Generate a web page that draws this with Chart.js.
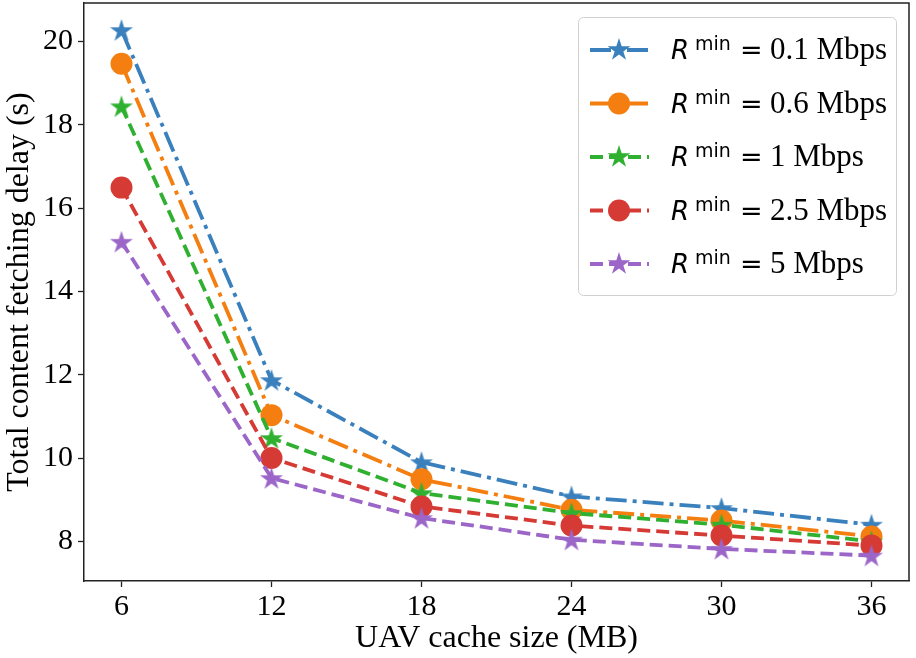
<!DOCTYPE html>
<html>
<head>
<meta charset="utf-8">
<script src="https://cdn.jsdelivr.net/npm/chart.js@4.4.1/dist/chart.umd.min.js"></script>
<style>
  body { margin: 0; background: #fff; }
  #wrap { width: 916px; height: 658px; }
</style>
</head>
<body>
<div id="wrap"><canvas id="mycanvas" width="916" height="658"></canvas></div>
<script>
// data
var cacheSizes = [6, 12, 18, 24, 30, 36];
var delay01 = [20.27, 11.87, 9.9, 9.08, 8.8, 8.4];
var delay06 = [19.46, 11.03, 9.49, 8.76, 8.5, 8.12];
var delay1 = [18.44, 10.48, 9.16, 8.68, 8.4, 8.0];
var delay25 = [16.49, 10.0, 8.84, 8.38, 8.14, 7.9];
var delay5 = [15.19, 9.52, 8.56, 8.04, 7.82, 7.66];
var rateLabels = ["0.1", "0.6", "1", "2.5", "5"];
var yTicks = [8, 10, 12, 14, 16, 18, 20];

var SERIF = "'Liberation Serif', 'Times New Roman', serif";
var SANS = "'DejaVu Sans', sans-serif";

var colors = ["#3a80bd", "#f47f10", "#30b030", "#d63a34", "#9b66c8"];
var markers = ["star", "circle", "star", "circle", "star"];
var dashDot = [21, 6, 4, 6];
var dashed = [13, 6];
var dashes = [dashDot, dashDot, dashed, dashed, dashed];
var allSeries = [delay01, delay06, delay1, delay25, delay5];

// filled five point star, like matplotlib '*'
function makeStar(color)
{
    var R = 12, r = R * 0.382, size = 30;
    var c = document.createElement("canvas");
    c.width = size; c.height = size;
    var g = c.getContext("2d");
    g.fillStyle = color;
    g.beginPath();
    for (var i = 0; i < 10; i++) {
        var rad = (i % 2 == 0) ? R : r;
        var a = -Math.PI / 2 + i * Math.PI / 5;
        var px = size / 2 + rad * Math.cos(a);
        var py = size / 2 + 1 + rad * Math.sin(a);
        if (i == 0) g.moveTo(px, py); else g.lineTo(px, py);
    }
    g.closePath();
    g.fill();
    return c;
}

var datasets = [];
for (var i = 0; i < allSeries.length; i++) {
    var pts = [];
    for (var j = 0; j < cacheSizes.length; j++) {
        pts.push({ x: cacheSizes[j], y: allSeries[i][j] });
    }
    var star = markers[i] == "star" ? makeStar(colors[i]) : null;
    datasets.push({
        label: "R min = " + rateLabels[i] + " Mbps",
        data: pts,
        borderColor: colors[i],
        backgroundColor: colors[i],
        borderWidth: 3.8,
        borderDash: dashes[i],
        borderCapStyle: "butt",
        pointStyle: star ? star : "circle",
        pointRadius: star ? 12 : 11,
        pointBorderWidth: 0,
        pointBackgroundColor: colors[i],
        tension: 0,
        order: allSeries.length - 1 - i,
        starImg: star
    });
}

// top/right spines + matplotlib style legend
var extrasPlugin = {
    id: "extras",
    afterDraw: function (chart)
    {
        var ctx = chart.ctx, a = chart.chartArea;
        ctx.save();
        ctx.strokeStyle = "#222";
        ctx.lineWidth = 1.5;
        ctx.beginPath();
        ctx.moveTo(a.left, a.top);
        ctx.lineTo(a.right, a.top);
        ctx.lineTo(a.right, a.bottom);
        ctx.stroke();

        // legend frame
        var bx = 578.5, by = 17.5, bw = 318, bh = 278;
        ctx.beginPath();
        ctx.roundRect(bx, by, bw, bh, 5);
        ctx.fillStyle = "rgba(255,255,255,0.85)";
        ctx.fill();
        ctx.strokeStyle = "#d0d0d0";
        ctx.lineWidth = 1;
        ctx.stroke();

        for (var k = 0; k < datasets.length; k++) {
            var ds = chart.data.datasets[k];
            var base = 59 + k * 53.5;
            var ly = base - 9;
            ctx.strokeStyle = ds.borderColor;
            ctx.lineWidth = ds.borderWidth;
            ctx.lineCap = "butt";
            ctx.setLineDash(ds.borderDash);
            ctx.beginPath();
            ctx.moveTo(590, ly);
            ctx.lineTo(649, ly);
            ctx.stroke();
            ctx.setLineDash([]);
            if (ds.starImg) {
                ctx.drawImage(ds.starImg, 619 - 15, ly - 16);
            } else {
                ctx.fillStyle = ds.borderColor;
                ctx.beginPath();
                ctx.arc(619, ly, 11, 0, Math.PI * 2);
                ctx.fill();
            }
            ctx.fillStyle = "#000";
            ctx.textBaseline = "alphabetic";
            ctx.textAlign = "left";
            ctx.font = "oblique 26px " + SANS;
            ctx.fillText("R", 671, base);
            ctx.font = "19px " + SANS;
            ctx.fillText("min", 695, base - 9);
            ctx.font = "27px " + SANS;
            ctx.fillText("=", 740, base);
            ctx.font = "31px " + SERIF;
            ctx.fillText(rateLabels[k] + " Mbps", 770, base);
        }
        ctx.restore();
    }
};

var tickFont = { family: SERIF, size: 30 };
var titleFont = { family: SERIF, size: 32 };

function noPad(s)
{
    s.paddingTop = 0; s.paddingBottom = 0; s.paddingLeft = 0; s.paddingRight = 0;
}

window.myGraph = new Chart(document.getElementById("mycanvas"), {
    type: "line",
    data: { datasets: datasets },
    plugins: [extrasPlugin],
    options: {
        responsive: false,
        animation: false,
        layout: { autoPadding: false, padding: { left: 0, right: 7, top: 3, bottom: 0 } },
        plugins: { legend: { display: false }, tooltip: { enabled: false } },
        scales: {
            x: {
                type: "linear",
                min: 4.5,
                max: 37.5,
                afterBuildTicks: function (s) { s.ticks = cacheSizes.map(function (v) { return { value: v }; }); },
                afterFit: function (s) { s.height = 77; noPad(s); },
                ticks: { font: tickFont, color: "#000", padding: 2, maxRotation: 0 },
                grid: { drawOnChartArea: false, tickLength: 6, color: "#222", tickWidth: 1.3 },
                border: { color: "#222", width: 1.5 },
                title: { display: true, text: "UAV cache size (MB)", font: titleFont, color: "#000", padding: { top: 0, bottom: 0 } }
            },
            y: {
                min: 7.05,
                max: 20.92,
                afterBuildTicks: function (s) { s.ticks = yTicks.map(function (v) { return { value: v }; }); },
                afterFit: function (s) { s.width = 84; noPad(s); },
                ticks: { font: tickFont, color: "#000", padding: 5 },
                grid: { drawOnChartArea: false, tickLength: 6, color: "#222", tickWidth: 1.3 },
                border: { color: "#222", width: 1.5 },
                title: { display: true, text: "Total content fetching delay (s)", font: titleFont, color: "#000", padding: { top: 0, bottom: 0 } }
            }
        }
    }
});
</script>
</body>
</html>
